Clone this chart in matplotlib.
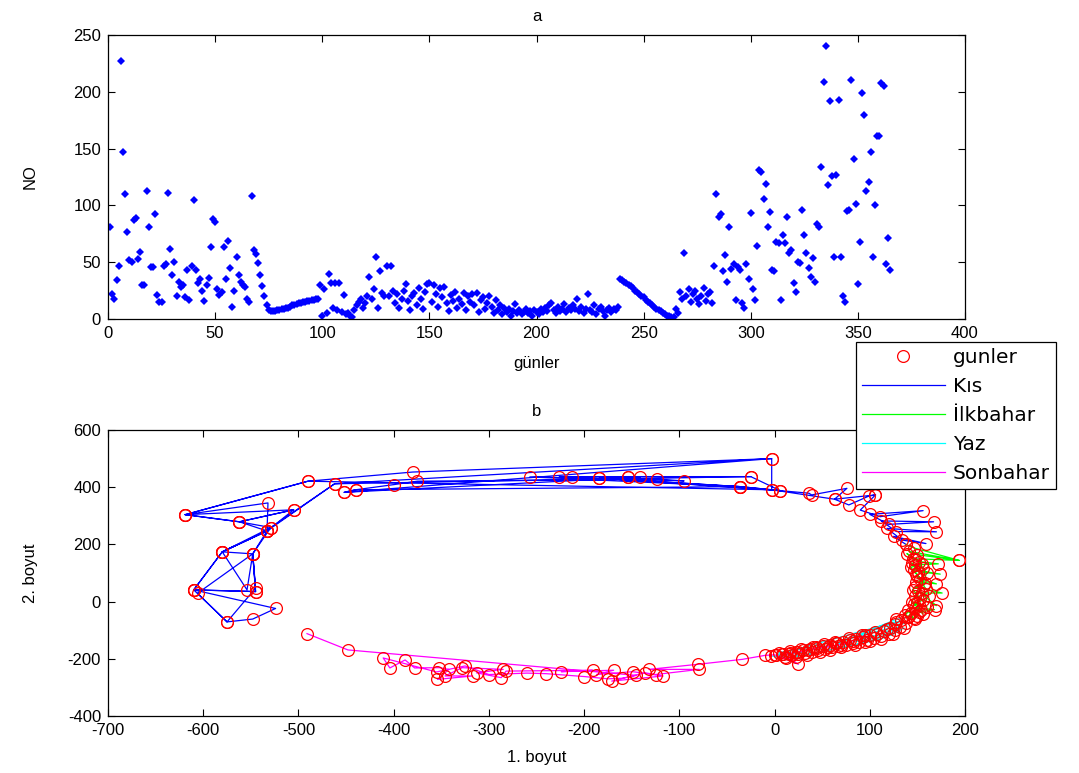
import numpy as np
import matplotlib
matplotlib.use("Agg")
import matplotlib.pyplot as plt
from matplotlib.lines import Line2D

plt.rcParams["font.family"] = ["Liberation Sans", "DejaVu Sans"]
plt.rcParams["axes.unicode_minus"] = False

# daily NO values (panel a)
no_values = [
    81, 22, 18, 34, 47, 227, 147, 110, 77, 52,
    50, 87, 89, 53, 59, 30, 30, 113, 81, 46,
    46, 92, 21, 15, 15, 47, 48, 111, 62, 39,
    50, 20, 33, 28, 30, 19, 43, 17, 47, 105,
    43, 32, 35, 25, 16, 30, 36, 63, 88, 85,
    26, 21, 24, 63, 35, 69, 45, 11, 25, 55,
    39, 33, 30, 28, 18, 15, 108, 61, 57, 49,
    39, 29, 20, 12, 8, 7, 7, 7, 8, 8,
    9, 9, 10, 10, 11, 12, 12, 13, 14, 14,
    15, 15, 16, 16, 17, 17, 18, 18, 30, 3,
    26, 5, 40, 32, 10, 32, 8, 32, 6, 21,
    4, 5, 3, 2, 8, 12, 15, 18, 10, 14,
    20, 37, 18, 26, 55, 10, 42, 23, 20, 47,
    20, 47, 25, 14, 22, 10, 18, 25, 31, 16,
    8, 20, 23, 12, 27, 18, 9, 24, 31, 32,
    15, 30, 22, 11, 27, 19, 28, 14, 7, 21,
    16, 24, 10, 18, 13, 23, 8, 20, 15, 22,
    12, 23, 6, 17, 19, 9, 14, 20, 11, 5,
    17, 8, 12, 4, 10, 6, 9, 3, 7, 13,
    5, 8, 4, 6, 9, 5, 7, 3, 8, 6,
    4, 9, 6, 10, 7, 12, 14, 8, 5, 11,
    7, 9, 13, 6, 10, 8, 12, 9, 18, 7,
    11, 5, 9, 22, 8, 6, 12, 4, 9, 11,
    7, 3, 8, 10, 6, 9, 8, 11, 35, 34,
    33, 32, 30, 29, 27, 25, 24, 22, 20, 19,
    17, 15, 14, 12, 11, 9, 8, 7, 5, 4,
    3, 3, 2, 2, 9, 5, 24, 18, 58, 20,
    26, 15, 22, 25, 18, 13, 20, 27, 16, 22,
    24, 14, 47, 110, 90, 92, 42, 56, 33, 81,
    44, 48, 17, 46, 43, 14, 10, 48, 35, 93,
    26, 17, 64, 131, 129, 106, 119, 81, 94, 43,
    42, 68, 67, 17, 74, 67, 90, 58, 61, 32,
    24, 50, 49, 96, 74, 58, 45, 37, 54, 33,
    84, 81, 134, 209, 240, 118, 192, 126, 55, 127,
    193, 55, 20, 15, 95, 96, 210, 141, 101, 31,
    68, 199, 180, 113, 121, 147, 55, 100, 161, 161,
    208, 205, 48, 71, 43,
]

# 2-D embedding (panel b), one list of (1. boyut, 2. boyut) per season
kis = [
    (106, 373), (63, 358), (-3, 391), (-3, 500), (-380, 453), (-490, 421), (-619, 304), (-562, 279),
    (-505, 321), (-533, 247), (-580, 174), (-610, 41), (-545, 35), (-548, 167), (-529, 259), (-462, 412),
    (-25, 437), (-226, 437), (-213, 437), (-36, 402), (6, 388), (-184, 432), (-154, 437), (-141, 435),
    (-452, 382), (-440, 391), (-400, 409), (-375, 421), (-123, 428), (-95, 422), (-257, 436), (-36, 402),
    (-3, 391), (-490, 421), (-619, 304), (-532, 345), (-533, 247), (-580, 174), (-610, 41), (-545, 35),
    (-548, 167), (-545, 47), (-575, -71), (-548, -61), (-524, -24), (-610, 41), (-575, -71), (-606, 29),
    (-548, 167), (-580, 174), (-533, 247), (-562, 279), (-619, 304), (-505, 321), (-562, 279), (-529, 259),
    (-580, 174), (-554, 41), (-548, 167), (-533, 247), (-462, 412), (-3, 500),
    (-452, 382), (-440, 391), (-36, 402), (-184, 432), (-154, 437), (-25, 437), (6, 388), (36, 379),
    (39, 373), (76, 396), (63, 358), (78, 338), (99, 369), (106, 373), (90, 320), (111, 297), (156, 318),
    (100, 305), (120, 270), (167, 279), (112, 282), (128, 245), (170, 244), (118, 256), (134, 215),
    (159, 203), (125, 228), (138, 200),
]
ilkbahar = [
    (138, 200), (146, 188), (194, 144), (141, 176), (150, 164), (194, 144), (145, 150), (139, 168),
    (152, 140), (172, 132), (147, 128), (156, 118), (144, 135), (151, 104), (174, 96), (146, 112),
    (153, 80), (170, 62), (149, 70), (157, 58), (150, 88), (159, 44), (148, 52), (176, 30),
    (155, 30), (162, 18), (151, 36), (170, -14), (147, 20), (156, 6), (150, -4), (160, -18),
    (146, -8), (154, -30), (156, -43), (148, -22), (168, -28), (152, -36), (143, -40), (150, -52),
    (140, -30), (146, -58), (137, -48), (153, 12), (145, 42), (158, 66), (149, 96), (143, 120),
    (155, 130), (148, 150), (160, 100), (144, -2), (152, -12), (141, -50), (147, -62),
]
yaz = [
    (140, -55), (128, -62), (66, -146), (133, -66), (138, -76), (127, -80), (132, -90), (121, -92),
    (126, -101), (115, -104), (120, -113), (108, -112), (112, -121), (100, -118), (104, -128), (93, -125),
    (97, -134), (86, -130), (89, -140), (79, -136), (82, -146), (72, -141), (75, -151), (65, -146),
    (67, -156), (58, -151), (60, -160), (51, -155), (53, -165), (44, -160), (46, -170), (37, -165),
    (39, -175), (30, -170), (32, -180), (23, -175), (25, -184), (16, -179), (18, -188), (9, -183),
    (11, -192), (2, -186), (128, -70), (118, -95), (106, -106), (92, -118), (78, -128), (64, -140),
    (52, -148), (40, -158), (28, -166), (16, -172), (5, -178), (22, -192), (48, -176), (70, -160),
    (95, -143), (112, -130), (124, -115), (136, -92), (100, -138), (84, -152), (58, -168), (34, -186),
    (12, -196), (-4, -190),
]
sonbahar = [
    (95, -118), (82, -137), (70, -150), (56, -158), (45, -161), (35, -170), (25, -176), (15, -182),
    (8, -184), (25, -219), (0, -186), (-10, -188), (-34, -202), (-80, -219), (-132, -237), (-79, -237),
    (-125, -255), (-136, -249), (-171, -278), (-117, -260), (-149, -245), (-187, -255), (-169, -240),
    (-224, -245), (-191, -240), (-282, -243), (-287, -266), (-313, -249), (-285, -237), (-328, -231),
    (-346, -260), (-317, -260), (-354, -272), (-342, -237), (-352, -231), (-378, -232), (-388, -204),
    (-404, -232), (-411, -197), (-355, -246), (-325, -225), (-300, -255), (-260, -250), (-240, -252),
    (-200, -262), (-175, -270), (-160, -268), (-145, -258), (-448, -169), (-491, -112),
]

season_labels = ["Kıs", "İlkbahar", "Yaz", "Sonbahar"]
season_colors = ["#0000ff", "#00ff00", "#00ffff", "#ff00ff"]
seasons = [kis, ilkbahar, yaz, sonbahar]

W, H = 1079, 773
fig = plt.figure(figsize=(W / 100, H / 100), dpi=100)

# panel a
ax1 = fig.add_axes([108 / W, 1 - 319 / H, 857 / W, 284 / H])
days = np.arange(1, len(no_values) + 1)
ax1.plot(days, no_values, linestyle="none", marker="D", ms=4.4,
         color="#0000ff", markeredgewidth=0)
ax1.set_xlim(0, 400)
ax1.set_ylim(0, 250)
ax1.set_xticks(np.arange(0, 401, 50))
ax1.set_yticks(np.arange(0, 251, 50))
ax1.set_title("a", fontsize=12, pad=10)
ax1.set_xlabel("günler", fontsize=12)
ax1.set_ylabel("NO", fontsize=12)
ax1.xaxis.set_label_coords(0.5, -0.13)
ax1.yaxis.set_label_coords(-0.082, 0.5)

# panel b
ax2 = fig.add_axes([108 / W, 1 - 716 / H, 857 / W, 286 / H])
for pts, col in zip(seasons, season_colors):
    xs, ys = zip(*pts)
    ax2.plot(xs, ys, color=col, lw=0.9, zorder=2)
all_x = [p[0] for s in seasons for p in s]
all_y = [p[1] for s in seasons for p in s]
ax2.plot(all_x, all_y, linestyle="none", marker="o", ms=8.5, mfc="none",
         mec="#ff0000", mew=0.9, zorder=3)
ax2.set_xlim(-700, 200)
ax2.set_ylim(-400, 600)
ax2.set_xticks(np.arange(-700, 201, 100))
ax2.set_yticks(np.arange(-400, 601, 200))
ax2.set_title("b", fontsize=12, pad=10)
ax2.set_xlabel("1. boyut", fontsize=12)
ax2.set_ylabel("2. boyut", fontsize=12)
ax2.xaxis.set_label_coords(0.5, -0.12)
ax2.yaxis.set_label_coords(-0.082, 0.5)

for ax in (ax1, ax2):
    ax.tick_params(direction="in", top=True, right=True, length=5,
                   width=0.8, labelsize=12, pad=5)
    for sp in ax.spines.values():
        sp.set_linewidth(0.9)

handles = [Line2D([], [], linestyle="none", marker="o", ms=8.5, mfc="none",
                  mec="#ff0000", mew=0.9)]
handles += [Line2D([], [], color=c, lw=0.9) for c in season_colors]
leg = fig.legend(handles, ["gunler"] + season_labels, loc="upper left",
                 bbox_to_anchor=(856 / W, 1 - 342 / H),
                 prop={"family": "DejaVu Sans", "size": 14.5},
                 frameon=True, fancybox=False, framealpha=1, edgecolor="black",
                 handlelength=4.1, handletextpad=0.4, labelspacing=0.5,
                 borderpad=0.3, borderaxespad=0)
leg.get_frame().set_linewidth(0.9)

fig.savefig("out.png", dpi=100)
